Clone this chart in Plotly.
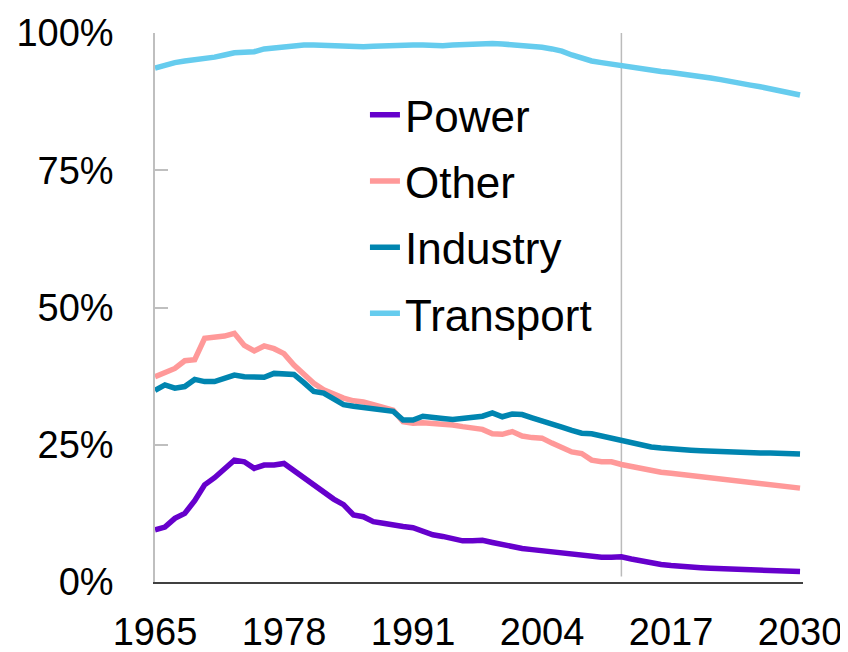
import plotly.graph_objects as go

years = list(range(1965, 2031))

power = [9.5, 10.0, 11.6, 12.5, 14.8, 17.7, 19.0, 20.5, 22.2, 21.9,
         20.7, 21.3, 21.3, 21.6, 20.3, 18.9, 17.5, 16.3, 15.1, 14.1,
         12.2, 11.9, 11.0, 10.7, 10.3, 10.1, 9.9, 9.3, 8.6, 8.3,
         7.9, 7.5, 7.5, 7.6, 7.2, 6.8, 6.4, 6.1, 5.9, 5.7,
         5.4, 5.2, 5.1, 4.9, 4.7, 4.5, 4.5, 4.6, 4.2, 3.8,
         3.4, 3.2, 3.0, 2.8, 2.7, 2.6, 2.5, 2.45, 2.4, 2.3,
         2.2, 2.15, 2.1, 2.0, 1.95, 1.9]

other = [37.4, 38.2, 38.9, 40.3, 40.5, 44.4, 44.5, 44.8, 45.3, 43.1,
         42.1, 43.0, 42.5, 41.6, 39.5, 37.8, 36.2, 35.0, 34.2, 33.5,
         33.0, 32.8, 32.3, 31.8, 31.3, 29.2, 28.9, 29.0, 28.9, 28.8,
         28.6, 28.3, 28.0, 27.8, 27.0, 26.9, 27.4, 26.6, 26.3, 26.2,
         25.3, 24.5, 23.7, 23.4, 22.2, 21.9, 21.9, 21.4, 21.0, 20.6,
         20.3, 20.0, 19.8, 19.6, 19.4, 19.2, 19.0, 18.8, 18.6, 18.4,
         18.2, 18.0, 17.8, 17.6, 17.3, 17.1]

industry = [34.9, 35.9, 35.3, 35.6, 36.9, 36.5, 36.5, 37.0, 37.7, 37.4,
            37.3, 37.3, 38.0, 38.0, 37.8, 36.3, 34.7, 34.4, 33.3, 32.3,
            32.0, 31.8, 31.7, 31.4, 31.1, 29.5, 29.5, 30.2, 30.1, 29.8,
            29.6, 29.8, 30.1, 30.2, 30.8, 30.1, 30.6, 30.5, 29.9, 29.4,
            28.8, 28.2, 27.6, 27.1, 27.0, 26.6, 26.0, 25.7, 25.4, 24.9,
            24.6, 24.4, 24.2, 24.1, 24.0, 23.9, 23.8, 23.8, 23.7, 23.6,
            23.6, 23.5, 23.5, 23.4, 23.4, 23.3]

transport = [93.6, 94.2, 94.6, 94.9, 95.1, 95.4, 95.6, 96.0, 96.4, 96.5,
             96.6, 97.1, 97.3, 97.5, 97.6, 97.8, 97.8, 97.7, 97.6, 97.6,
             97.5, 97.5, 97.6, 97.7, 97.8, 97.8, 97.8, 97.8, 97.7, 97.7,
             97.8, 97.9, 97.9, 98.0, 98.1, 98.0, 97.9, 97.8, 97.6, 97.4,
             97.1, 96.7, 96.0, 95.4, 94.9, 94.6, 94.3, 94.1, 93.8, 93.5,
             93.2, 93.0, 92.8, 92.6, 92.4, 92.1, 91.8, 91.5, 91.1, 90.8,
             90.5, 90.2, 89.8, 89.5, 89.1, 88.7]

series_names = ["Power", "Other", "Industry", "Transport"]
series_values = [power, other, industry, transport]
series_colors = ["#6600CC", "#FF9999", "#0085B0", "#66CCEE"]

x_ticks = [1965, 1978, 1991, 2004, 2017, 2030]
y_ticks = [0, 25, 50, 75, 100]
y_tick_labels = ["0%", "25%", "50%", "75%", "100%"]
forecast_start = 2012

FONT = "Liberation Sans, Arial, sans-serif"

fig = go.Figure()
for name, vals, col in zip(series_names, series_values, series_colors):
    fig.add_trace(go.Scatter(
        x=years, y=vals, name=name, mode="lines", legendgroup=name,
        line=dict(color=col, width=5.5, shape="linear"),
    ))

fig.add_shape(type="line", xref="x", yref="y",
              x0=forecast_start, x1=forecast_start, y0=1, y1=100,
              line=dict(color="#BBBBBB", width=1.5), layer="below")

fig.update_layout(
    width=840, height=644,
    margin=dict(l=147, r=45, t=25, b=70, autoexpand=False),
    paper_bgcolor="white", plot_bgcolor="white",
    font=dict(family=FONT, size=38, color="black"),
    showlegend=True,
    legend=dict(
        x=0.324, y=0.915, xanchor="left", yanchor="top",
        bgcolor="rgba(0,0,0,0)", font=dict(size=44, family=FONT),
        traceorder="grouped", tracegroupgap=6,
        itemwidth=30,
    ),
    xaxis=dict(
        range=[1965, 2030.3], tickvals=x_ticks, ticktext=[str(v) for v in x_ticks],
        showgrid=False, zeroline=False, showline=True, automargin=False,
        linecolor="#404040", linewidth=2, ticks="", ticklabelstandoff=15,
        tickfont=dict(size=38),
    ),
    yaxis=dict(
        range=[0, 100], tickvals=y_ticks, ticktext=y_tick_labels,
        showgrid=False, zeroline=False, showline=True, automargin=False,
        linecolor="#BFBFBF", linewidth=1.5, ticks="inside", ticklen=13,
        tickcolor="#BFBFBF", tickwidth=1.5, ticklabelstandoff=32,
        tickfont=dict(size=38),
    ),
)

fig.write_html("out.html")
